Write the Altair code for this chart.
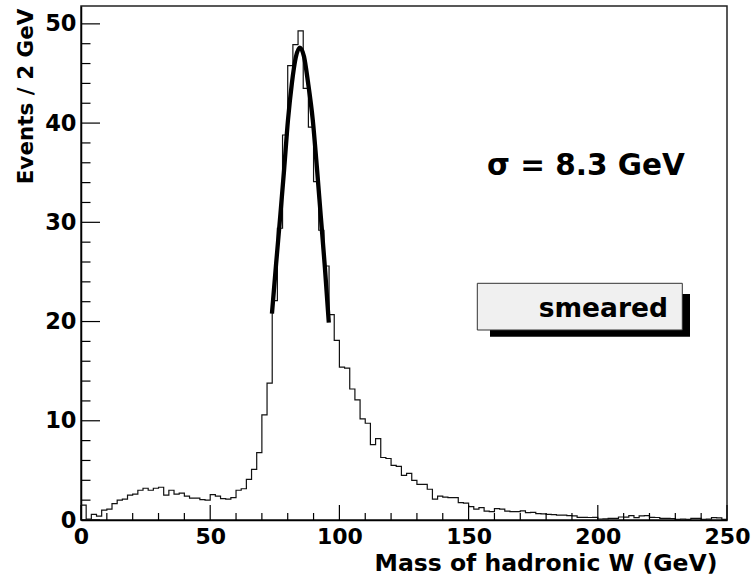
import altair as alt
import pandas as pd

# ---- data ----
bin_width = 2  # GeV
counts = [
    1.5, 0.1, 0.57, 0.4, 1.0, 1.1, 1.65, 2.0, 2.1, 2.5,
    2.6, 3.0, 3.2, 3.0, 3.2, 3.3, 2.5, 3.0, 2.6, 2.7,
    2.4, 2.2, 2.2, 2.05, 2.0, 2.55, 2.4, 2.15, 2.1, 2.25,
    3.0, 3.15, 4.1, 5.1, 6.8, 10.6, 13.8, 22.1, 29.4, 38.8,
    45.8, 47.9, 49.3, 43.5, 39.6, 34.1, 29.2, 25.6, 20.7, 18.1,
    15.4, 15.3, 13.2, 12.1, 10.2, 9.75, 7.6, 8.2, 6.3, 6.2,
    5.5, 5.4, 4.5, 4.7, 4.0, 3.6, 3.6, 3.1, 2.1, 2.4,
    2.3, 2.25, 2.25, 1.75, 1.7, 1.35, 1.1, 1.25, 0.9, 0.85,
    1.15, 1.1, 0.9, 0.85, 0.85, 0.92, 0.75, 0.77, 0.64, 0.62,
    0.57, 0.55, 0.5, 0.5, 0.44, 0.42, 0.27, 0.27, 0.25, 0.27,
    0.1, 0.12, 0.17, 0.17, 0.3, 0.28, 0.44, 0.24, 0.42, 0.44,
    0.27, 0.25, 0.17, 0.17, 0.15, 0.07, 0.08, 0.07, 0.17, 0.16,
    0.07, 0.08, 0.24, 0.22, 0.07,
]
fit_mass = [73.9, 75.5, 77.1, 78.6, 80.1, 81.6, 83.1, 84.7, 86.3, 87.8, 89.7, 91.3, 92.8, 94.4, 95.9]
fit_val = [20.8, 25.8, 30.6, 35.3, 40.3, 44.0, 46.6, 47.6, 46.7, 44.2, 40.3, 35.5, 30.6, 25.4, 19.9]

x_major = [0, 50, 100, 150, 200, 250]
x_minor = [10, 20, 30, 40, 60, 70, 80, 90, 110, 120, 130, 140, 160, 170, 180, 190, 210, 220, 230, 240]
y_major = [0, 10, 20, 30, 40, 50]
y_minor = [2, 4, 6, 8, 12, 14, 16, 18, 22, 24, 26, 28, 32, 34, 36, 38, 42, 44, 46, 48]

x_title = "Mass of hadronic W (GeV)"
y_title = "Events / 2 GeV"
sigma_text = "σ = 8.3 GeV"
legend_text = "smeared"

# ---- tables ----
edges = [i * bin_width for i in range(len(counts))] + [len(counts) * bin_width]
hist = pd.DataFrame({"m": edges, "n": counts + [counts[-1]]})
fit = pd.DataFrame({"m": fit_mass, "n": fit_val})

W, H = 646, 514
FONT = "DejaVu Sans"
xs = alt.Scale(domain=[0, 250], nice=False, zero=False)
ys = alt.Scale(domain=[0, 51.8], nice=False, zero=False)

x_axis = alt.Axis(
    values=x_major, tickSize=0, grid=False, domainColor="black", domainWidth=1.5,
    labelFont=FONT, labelFontSize=22, labelFontWeight="bold", labelColor="black",
    labelPadding=23, labelBaseline="alphabetic", labelFlush=False, labelOverlap=False,
    title=x_title, titleFont=FONT, titleFontSize=23.5, titleFontWeight="bold", titleColor="black",
    titleX=636, titleY=50, titleAlign="right", titleBaseline="alphabetic",
)
y_axis = alt.Axis(
    values=y_major, tickSize=0, grid=False, domainColor="black", domainWidth=1.5,
    labelFont=FONT, labelFontSize=22.5, labelFontWeight="bold", labelColor="black",
    labelPadding=5, labelAlign="right", labelBaseline="middle", labelFlush=False, labelOverlap=False,
    title=y_title, titleFont=FONT, titleFontSize=21.5, titleFontWeight="bold", titleColor="black",
    titleAngle=270, titleX=-49, titleY=2, titleAlign="right", titleBaseline="alphabetic",
)

histo = alt.Chart(hist).mark_line(interpolate="step-after", color="#111", strokeWidth=1.2).encode(
    x=alt.X("m:Q", scale=xs, axis=x_axis),
    y=alt.Y("n:Q", scale=ys, axis=y_axis),
)

fitline = alt.Chart(fit).mark_line(interpolate="monotone", color="black", strokeWidth=4.3).encode(
    x=alt.X("m:Q", scale=xs),
    y=alt.Y("n:Q", scale=ys),
)

def xticks(vals, length):
    return alt.Chart(pd.DataFrame({"m": vals})).mark_rule(color="black", strokeWidth=1.2).encode(
        x=alt.X("m:Q", scale=xs), y=alt.value(H), y2=alt.value(H - length)
    )

def yticks(vals, length):
    return alt.Chart(pd.DataFrame({"n": vals})).mark_rule(color="black", strokeWidth=1.2).encode(
        y=alt.Y("n:Q", scale=ys), x=alt.value(0), x2=alt.value(length)
    )

shadow = alt.Chart(pd.DataFrame({"a": [0]})).mark_rect(color="black").encode(
    x=alt.value(409), x2=alt.value(609), y=alt.value(288), y2=alt.value(330.7)
)
box = alt.Chart(pd.DataFrame({"a": [0]})).mark_rect(fill="#f0f0f0", stroke="#333", strokeWidth=1).encode(
    x=alt.value(396.3), x2=alt.value(601.3), y=alt.value(277.3), y2=alt.value(324)
)
legend_label = alt.Chart(pd.DataFrame({"a": [0]})).mark_text(
    text=legend_text, font=FONT, fontWeight="bold", fontSize=26.5, align="right", baseline="alphabetic", color="black"
).encode(x=alt.value(587), y=alt.value(310.7))
sigma = alt.Chart(pd.DataFrame({"a": [0]})).mark_text(
    text=sigma_text, font=FONT, fontWeight="bold", fontSize=29.5, align="left", baseline="alphabetic", color="black"
).encode(x=alt.value(406), y=alt.value(169))

chart = alt.layer(
    histo, fitline,
    xticks(x_major, 15), xticks(x_minor, 7),
    yticks(y_major, 19), yticks(y_minor, 9.5),
    shadow, box, legend_label, sigma,
).properties(
    width=W, height=H,
    autosize=alt.AutoSizeParams(type="none"),
    padding={"left": 81, "top": 6, "right": 27, "bottom": 67},
    background="white",
).configure_view(stroke="#222", strokeWidth=1.5)

chart.save("out.html", embed_options={"renderer": "svg", "actions": False})
